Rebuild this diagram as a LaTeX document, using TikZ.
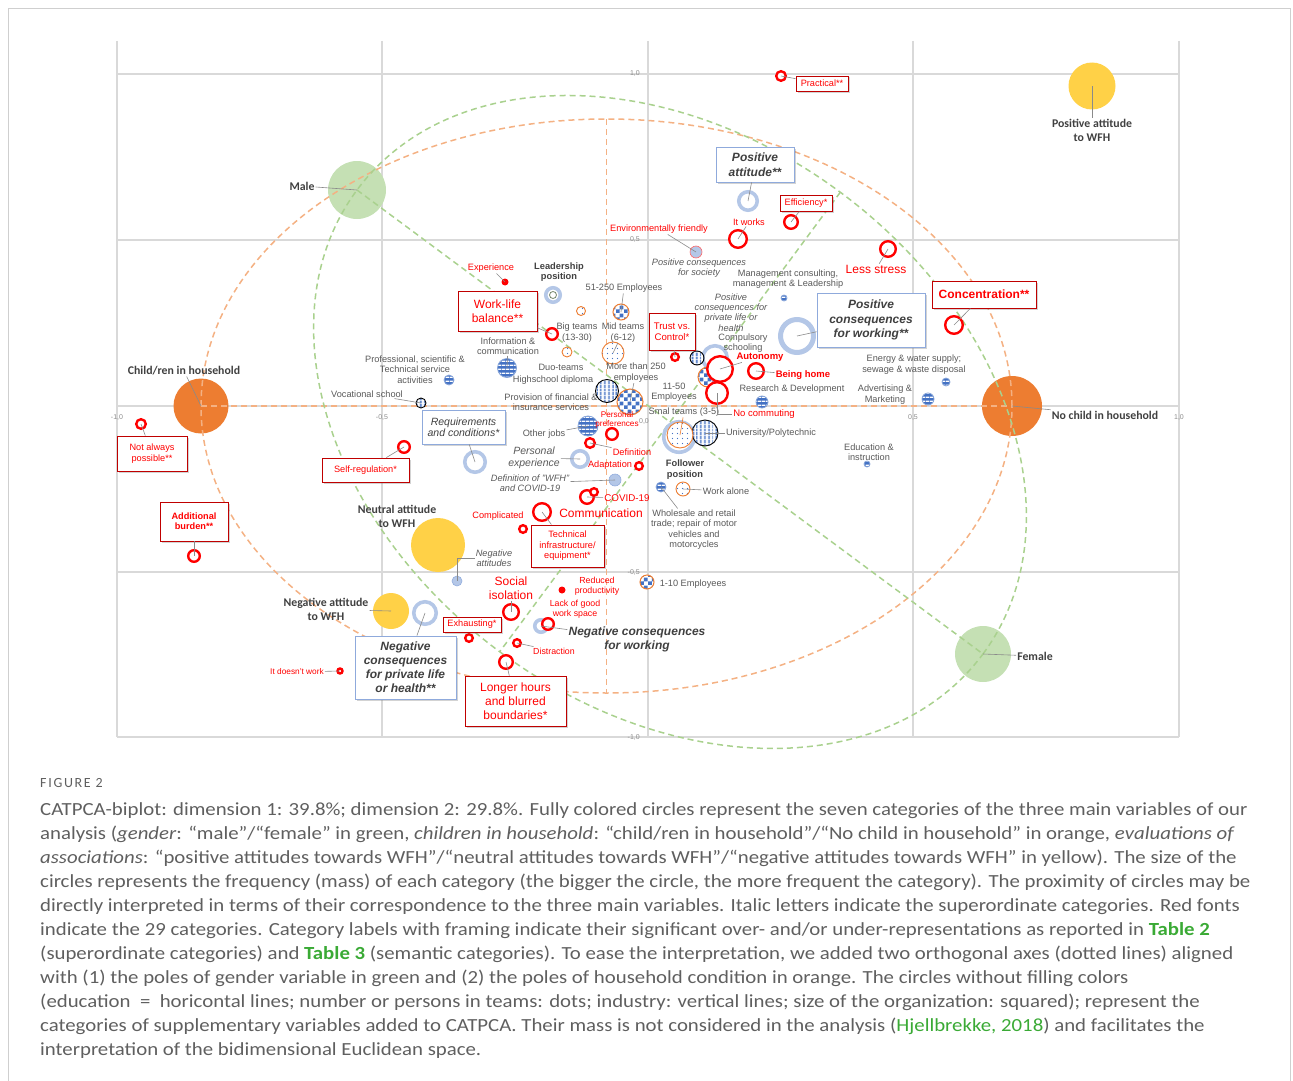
\documentclass[tikz,border=0pt]{standalone}
\usepackage{fontspec}
\setmainfont{Liberation Sans}
\newfontfamily\calib{Carlito}
\newfontfamily\capfont{Carlito}[FakeStretch=1.125]
\usetikzlibrary{positioning, calc, patterns, patterns.meta, shadows}
\newcommand{\fsz}[2]{\fontsize{#1}{#2}\selectfont}

\definecolor{gridgray}{HTML}{D9D9D9}
\definecolor{framegray}{HTML}{CFCFCF}
\definecolor{txtgray}{HTML}{595959}
\definecolor{txtdark}{HTML}{404040}
\definecolor{tickgray}{HTML}{8C8C8C}
\definecolor{leadgray}{HTML}{8A8A8A}
\definecolor{catred}{HTML}{FF0000}
\definecolor{boxred}{HTML}{C00000}
\definecolor{boxblue}{HTML}{8FAADC}
\definecolor{ringblue}{HTML}{B4C7E7}
\definecolor{stripeblue}{HTML}{4472C4}
\definecolor{mygreen}{HTML}{C5E0B4}
\definecolor{myorange}{HTML}{ED7D31}
\definecolor{myyellow}{HTML}{FFD147}
\definecolor{dashorange}{HTML}{F4B183}
\definecolor{dashgreen}{HTML}{A9D18E}
\definecolor{capgray}{HTML}{5F5F5F}
\definecolor{capgreen}{HTML}{3AAA35}

\pgfdeclarepatternformonly{chequer}{\pgfqpoint{0pt}{0pt}}{\pgfqpoint{8pt}{8pt}}{\pgfqpoint{8pt}{8pt}}{%
  \pgfpathrectangle{\pgfqpoint{0pt}{0pt}}{\pgfqpoint{4pt}{4pt}}%
  \pgfpathrectangle{\pgfqpoint{4pt}{4pt}}{\pgfqpoint{4pt}{4pt}}%
  \pgfusepath{fill}}
\pgfdeclarepatternformonly{teamdots}{\pgfqpoint{-1pt}{-1pt}}{\pgfqpoint{6pt}{6pt}}{\pgfqpoint{5pt}{5pt}}{%
  \pgfpathcircle{\pgfqpoint{2.5pt}{2.5pt}}{0.6pt}\pgfusepath{fill}}

\tikzset{
  gridln/.style={draw=gridgray, line width=1.1pt},
  odash/.style={draw=dashorange, line width=1.5pt, dash pattern=on 6pt off 4pt},
  gdash/.style={draw=dashgreen, line width=1.5pt, dash pattern=on 6pt off 4pt},
  bigdot/.style={circle, inner sep=0pt, minimum size=#1pt},
  redring/.style={circle, draw=catred, line width=2.4pt, fill=white, inner sep=0pt, minimum size=#1pt},
  reddot/.style={circle, fill=catred, inner sep=0pt, minimum size=#1pt},
  supring/.style={circle, draw=ringblue, line width=3.6pt, fill=white, inner sep=0pt, minimum size=#1pt},
  supfill/.style={circle, draw=ringblue!70!stripeblue, line width=0.6pt, fill=ringblue, inner sep=0pt, minimum size=#1pt},
  hlines/.style={circle, inner sep=0pt, minimum size=#1pt, fill=stripeblue,
    postaction={pattern={Lines[angle=0, distance=4pt, line width=1.5pt]}, pattern color=white},
    postaction={draw=ringblue!60!stripeblue, line width=0.8pt}},
  vlines/.style={circle, inner sep=0pt, minimum size=#1pt, fill=white,
    postaction={pattern={Lines[angle=90, distance=4pt, line width=2pt]}, pattern color=stripeblue},
    postaction={draw=black, line width=0.9pt}},
  chequered/.style={circle, inner sep=0pt, minimum size=#1pt, fill=white,
    postaction={pattern=chequer, pattern color=stripeblue},
    postaction={draw=myorange, line width=1pt}},
  teamdot/.style={circle, inner sep=0pt, minimum size=#1pt, fill=white,
    postaction={pattern=teamdots, pattern color=stripeblue},
    postaction={draw=myorange, line width=0.9pt}},
  mainlbl/.style={text=txtdark, font=\calib\bfseries\fsz{11.8}{14.5}, align=center, inner sep=1pt},
  graylbl/.style={text=txtgray, font=\fsz{9.2}{10.4}, align=center, inner sep=1pt},
  boldlbl/.style={text=txtdark, font=\bfseries\fsz{9.3}{10.6}, align=center, inner sep=1pt},
  itlbl/.style={text=txtgray, font=\itshape\fsz{9.2}{10.2}, align=center, inner sep=1pt},
  redlbl/.style={text=catred, font=\fsz{9.2}{10.3}, align=center, inner sep=1pt},
  redbox/.style={draw=boxred, line width=0.9pt, fill=white, text=catred, align=center, inner sep=1pt,
    font=\fsz{9.2}{10.4}, drop shadow={shadow xshift=1.5pt, shadow yshift=-1.5pt, opacity=0.35}},
  bluebox/.style={draw=boxblue, line width=0.9pt, fill=white, text=txtdark, align=center, inner sep=1pt,
    font=\bfseries\itshape\fsz{12}{14.5}, drop shadow={shadow xshift=1.5pt, shadow yshift=-1.5pt, opacity=0.35}},
  leader/.style={draw=leadgray, line width=0.6pt},
  ticklbl/.style={text=tickgray, font=\fsz{7}{8}, inner sep=0pt},
}

\begin{document}
\begin{tikzpicture}[x=1pt, y=-1pt]
  \useasboundingbox (0,0) rectangle (1293,1081);
  \draw[framegray, line width=1pt] (8.5,8.5) rectangle (1290.5,1100);

  % Grid
  \foreach \x in {117,382,648,913,1179}
    \draw[gridln] (\x,41) -- (\x,737);
  \foreach \y in {74,240,406,572,737}
    \draw[gridln] (117,\y) -- (1179,\y);
  \foreach \x/\t in {117/{-1,0}, 382/{-0,5}, 913/{0,5}, 1179/{1,0}}
    \node[ticklbl] at (\x,418) {\t};
  \foreach \y/\t in {74/{1,0}, 240/{0,5}, 572/{-0,5}, 737/{-1,0}}
    \node[ticklbl, anchor=east] at (640,\y) {\t};
  \node[ticklbl] at (644,421) {0,0};

  % Main variables
  \node[bigdot=58, fill=mygreen] (male) at (357,190) {};
  \node[bigdot=56, fill=mygreen] (female) at (983,654) {};
  \node[bigdot=55, fill=myorange] (child) at (201,406) {};
  \node[bigdot=60, fill=myorange] (nochild) at (1012,406) {};
  \node[bigdot=47, fill=myyellow] (poswfh) at (1092,86) {};
  \node[bigdot=54, fill=myyellow] (neuwfh) at (438,545) {};
  \node[bigdot=36, fill=myyellow] (negwfh) at (391,611) {};

  % Axes of the poles
  \coordinate (oc) at ($(child)!0.5!(nochild)$);
  \draw[odash] (child.center) -- (nochild.center);
  \draw[odash] ($(oc)+(0,-287)$) -- ($(oc)+(0,287)$);
  \draw[odash] (oc) ellipse [x radius=405.5pt, y radius=287pt];
  \coordinate (gc) at ($(male)!0.5!(female)$);
  \draw[gdash] (male.center) -- (female.center);
  \draw[gdash] ($(gc)!286pt!90:(female)$) -- ($(gc)!286pt!-90:(female)$);
  \draw[gdash, rotate around={-36.54:(gc)}] (gc) ellipse [x radius=389.6pt, y radius=286pt];

  % Superordinate categories
  \node[supring=18.5] (posatt) at (748,201) {};
  \node[supring=33, line width=5pt] (poscw) at (797,336) {};
  \node[supring=24.5] (posprivate) at (715,358) {};
  \node[supring=20.5] (reqcond) at (475,462) {};
  \node[supring=16.5] (persexp) at (580,459) {};
  \node[supring=22.5] (negprivate) at (425,613) {};
  \node[supring=12.5] (negwork) at (541,626) {};
  \node[supring=30.5] (follower) at (679,437) {};
  \node[supring=14.5] (leaderpos) at (553,295) {};
  \node[circle, draw=mygreen!60!black, line width=0.8pt, inner sep=0pt, minimum size=7pt] (leaderin) at (553,295) {};
  \node[supfill=12, draw=catred!60] (society) at (696,252) {};
  \node[supfill=12] (defwfh) at (615,480) {};
  \node[supfill=10] (negatt) at (457,581) {};

  % Supplementary variables
  \node[hlines=6] (mgmt) at (784,298) {};
  \node[hlines=10] (prof) at (449,380) {};
  \node[hlines=19] (infocomm) at (507,368) {};
  \node[hlines=20] (otherjobs) at (588,426) {};
  \node[hlines=12] (research) at (762,402) {};
  \node[hlines=8] (energy) at (946,382) {};
  \node[hlines=12] (advert) at (928,399) {};
  \node[hlines=6] (eduinstr) at (867,464) {};
  \node[hlines=10] (wholesale) at (661,487) {};
  \node[vlines=10] (vocational) at (421,403) {};
  \node[vlines=23] (highschool) at (607,391) {};
  \node[vlines=14] (compulsory) at (697,358) {};
  \node[vlines=26] (university) at (705,433) {};
  \node[chequered=16] (emp51) at (621,312) {};
  \node[chequered=26] (emp250) at (630,402) {};
  \node[chequered=20] (emp11) at (708,377) {};
  \node[chequered=14] (emp1) at (647,582) {};
  \node[teamdot=9] (bigteams) at (581,311) {};
  \node[teamdot=22] (midteams) at (613,353) {};
  \node[teamdot=10] (duo) at (567,352) {};
  \node[teamdot=26] (smalteams) at (680,435) {};
  \node[teamdot=14] (workalone) at (683,489) {};

  % Categories
  \node[redring=9.6] (practical) at (781,76) {};
  \node[redring=13.6] (efficiency) at (791,222) {};
  \node[redring=17.6] (itworks) at (738,239) {};
  \node[redring=15.6] (lessstress) at (888,249) {};
  \node[redring=17.6] (concentration) at (954,325) {};
  \node[redring=11.6] (worklife) at (552,334) {};
  \node[redring=7.6] (trust) at (675,357) {};
  \node[redring=25.6] (autonomy) at (720,369) {};
  \node[redring=15.6] (beinghome) at (756,371) {};
  \node[redring=21.6] (nocommuting) at (717,393) {};
  \node[redring=11.6] (perspref) at (612,434) {};
  \node[redring=9.6] (definition) at (590,443) {};
  \node[redring=7.6] (adaptation) at (639,466) {};
  \node[redring=13.6] (covid) at (587,497) {};
  \node[redring=7.6] (covidb) at (594,492) {};
  \node[redring=17.6] (communication) at (542,512) {};
  \node[redring=7.6] (complicated) at (523,529) {};
  \node[redring=11.6] (selfreg) at (404,447) {};
  \node[redring=9.6] (notalways) at (141,424) {};
  \node[redring=11.6] (addburden) at (194,556) {};
  \node[redring=15.6] (socialiso) at (511,612) {};
  \node[redring=11.6] (lackspace) at (548,624) {};
  \node[redring=7.6] (exhausting) at (469,638) {};
  \node[redring=7.6] (distraction) at (517,643) {};
  \node[redring=13.6] (longerhours) at (506,662) {};
  \node[redring=5] (doesntwork) at (340,671) {};
  \node[reddot=7] (experience) at (505,282) {};
  \node[reddot=7] (reduced) at (562,590) {};

  % Labels of the main variables
  \node[mainlbl] (lmale) at (302,186) {Male};
  \node[mainlbl] (lfemale) at (1035,656) {Female};
  \node[mainlbl] (lchild) at (184,371) {Child/ren in household};
  \node[mainlbl] (lnochild) at (1105,415) {No child in household};
  \node[mainlbl] (lposwfh) at (1092,130.5) {Positive attitude\\to WFH};
  \node[mainlbl] (lneuwfh) at (397,516.5) {Neutral attitude\\to WFH};
  \node[mainlbl] (lnegwfh) at (326,609.5) {Negative attitude\\to WFH};

  % Labels of the superordinate categories
  \node[bluebox, minimum width=78pt, minimum height=35pt] (bposatt) at (755,164.5) {Positive\\attitude**};
  \node[bluebox, minimum width=108pt, minimum height=54pt] (bposcw) at (871,320) {Positive\\consequences\\for working**};
  \node[bluebox, font=\itshape\fsz{10.5}{11.5}, minimum width=83pt, minimum height=34pt] (breq) at (463.5,427) {Requirements\\and conditions*};
  \node[bluebox, font=\bfseries\itshape\fsz{12}{14}, minimum width=101pt, minimum height=63pt] (bnegpriv) at (405.5,667.5) {Negative\\consequences\\for private life\\or health**};
  \node[itlbl] (lsociety) at (699,268) {Positive consequences\\for society};
  \node[itlbl] (lposprivate) at (731,312.5) {Positive\\consequences for\\private life or\\health};
  \node[itlbl, font=\itshape\fsz{10.5}{12}] (lpersexp) at (534,458) {Personal\\experience};
  \node[itlbl] (ldefwfh) at (530,483) {Definition of "WFH"\\and COVID-19};
  \node[itlbl] (lnegatt) at (494,558) {Negative\\attitudes};
  \node[itlbl, text=txtdark, font=\bfseries\itshape\fsz{12}{14}] (lnegwork) at (637,639) {Negative consequences\\for working};
  \node[boldlbl] (lleaderpos) at (559,272) {Leadership\\position};
  \node[boldlbl] (lfollower) at (685,469.5) {Follower\\position};

  % Labels of the categories
  \node[redbox, minimum width=52pt, minimum height=15pt] (bpractical) at (822,83.5) {Practical**};
  \node[redbox, minimum width=52pt, minimum height=16pt] (befficiency) at (806,203) {Efficiency*};
  \node[redbox, font=\bfseries\fsz{12}{14}, minimum width=104pt, minimum height=27pt] (bconc) at (984,294.5) {Concentration**};
  \node[redbox, font=\fsz{12}{14.5}, minimum width=79pt, minimum height=40pt] (bworklife) at (497.5,311) {Work-life\\balance**};
  \node[redbox, font=\fsz{9.6}{10.5}, minimum width=46pt, minimum height=37pt] (btrust) at (672,331.5) {Trust vs.\\Control*};
  \node[redbox, minimum width=87pt, minimum height=24pt] (bselfreg) at (365.5,470) {Self-regulation*};
  \node[redbox, minimum width=70pt, minimum height=35pt] (bnotalways) at (152,453.5) {Not always\\possible**};
  \node[redbox, font=\bfseries\fsz{9.2}{10.4}, minimum width=68pt, minimum height=39pt] (baddburden) at (194,521.5) {Additional\\burden**};
  \node[redbox, minimum width=73pt, minimum height=42pt] (btechnical) at (567.5,546) {Technical\\infrastructure/\\equipment*};
  \node[redbox, minimum width=58pt, minimum height=15pt] (bexhausting) at (472,624.5) {Exhausting*};
  \node[redbox, font=\fsz{12}{14}, minimum width=101pt, minimum height=50pt] (blongerhours) at (515.5,701) {Longer hours\\and blurred\\boundaries*};
  \node[redlbl] (lexperience) at (491,268) {Experience};
  \node[redlbl] (litworks) at (749,222) {It works};
  \node[redlbl] (lenviron) at (659,229) {Environmentally friendly};
  \node[redlbl, font=\fsz{12}{14}] (llessstress) at (876,269) {Less stress};
  \node[redlbl, font=\bfseries\fsz{9.5}{11}] (lautonomy) at (760,357) {Autonomy};
  \node[redlbl, font=\bfseries\fsz{9.5}{11}] (lbeinghome) at (803,375) {Being home};
  \node[redlbl, font=\fsz{9.5}{11}] (lnocommuting) at (764,414) {No commuting};
  \node[redlbl, font=\fsz{8.2}{9}] (lperspref) at (617,420) {Personal\\preferences};
  \node[redlbl] (ldefinition) at (632,452) {Definition};
  \node[redlbl] (ladaptation) at (610,465) {Adaptation};
  \node[redlbl, font=\fsz{9.8}{11}] (lcovid) at (627,498) {COVID-19};
  \node[redlbl, font=\fsz{12}{14}] (lcommunication) at (601,513) {Communication};
  \node[redlbl] (lcomplicated) at (498,516) {Complicated};
  \node[redlbl, font=\fsz{12}{14}] (lsocialiso) at (511,588) {Social\\isolation};
  \node[redlbl, font=\fsz{8.8}{10}] (lreduced) at (597,586) {Reduced\\productivity};
  \node[redlbl, font=\fsz{8.8}{10}] (llackspace) at (575,609) {Lack of good\\work space};
  \node[redlbl, font=\fsz{8.8}{10}] (ldistraction) at (554,651) {Distraction};
  \node[redlbl, font=\fsz{8.3}{9.5}] (ldoesntwork) at (297,672) {It doesn't work};

  % Labels of the supplementary variables
  \node[graylbl] (lemp51) at (624,288) {51-250 Employees};
  \node[graylbl] (lbigteams) at (577,332.5) {Big teams\\(13-30)};
  \node[graylbl] (lmidteams) at (623,332.5) {Mid teams\\(6-12)};
  \node[graylbl] (lduo) at (561,367) {Duo-teams};
  \node[graylbl] (linfocomm) at (508,346) {Information \&\\communication};
  \node[graylbl] (lhighschool) at (553,380) {Highschool diploma};
  \node[graylbl] (lfinance) at (551,402.5) {Provision of financial \&\\insurance services};
  \node[graylbl] (lemp250) at (636,372.5) {More than 250\\employees};
  \node[graylbl] (lsmalteams) at (684,412) {Smal teams (3-5)};
  \node[graylbl] (lemp11) at (674,392.5) {11-50\\Employees};
  \node[graylbl] (lotherjobs) at (544,434) {Other jobs};
  \node[graylbl] (lmgmt) at (788,279) {Management consulting,\\management \& Leadership};
  \node[graylbl] (lcompulsory) at (743,343) {Compulsory\\schooling};
  \node[graylbl] (lresearch) at (792,389) {Research \& Development};
  \node[graylbl] (lenergy) at (914,364.5) {Energy \& water supply;\\sewage \& waste disposal};
  \node[graylbl] (ladvert) at (885,394.5) {Advertising \&\\Marketing};
  \node[graylbl] (leduinstr) at (869,452.5) {Education \&\\instruction};
  \node[graylbl] (luniversity) at (771,433) {University/Polytechnic};
  \node[graylbl] (lworkalone) at (726,491) {Work alone};
  \node[graylbl] (lwholesale) at (694,529.5) {Wholesale and retail\\trade; repair of motor\\vehicles and\\motorcycles};
  \node[graylbl] (lemp1) at (693,584) {1-10 Employees};
  \node[graylbl] (lprof) at (415,369.5) {Professional, scientific \&\\Technical service\\activities};
  \node[graylbl] (lvocational) at (367,394) {Vocational school};

  % Leader lines
  \draw[leader] (lmale) -- (male.center);
  \draw[leader] (lfemale) -- (female.center);
  \draw[leader] (lchild) -- (child.center);
  \draw[leader] (lnochild) -- (nochild.center);
  \draw[leader] (lposwfh) -- (poswfh.center);
  \draw[leader] (lnegwfh) -- (negwfh.center);
  \draw[leader] (bpractical) -- (practical.center);
  \draw[leader] (befficiency) -- (efficiency.center);
  \draw[leader] (litworks) -- (itworks.center);
  \draw[leader] (lenviron) -- (society.center);
  \draw[leader] (llessstress) -- (lessstress.center);
  \draw[leader] (bconc) -- (concentration.center);
  \draw[leader] (bposatt) -- (posatt.center);
  \draw[leader] (bposcw) -- (poscw.center);
  \draw[leader] (bworklife) -- (worklife.center);
  \draw[leader] (lexperience) -- (experience.center);
  \draw[leader] (btrust) -- (trust.center);
  \draw[leader] (lautonomy) -- (autonomy.center);
  \draw[leader] (lbeinghome) -- (beinghome.center);
  \draw[leader] (lnocommuting.west) -| (nocommuting.center);
  \draw[leader] (bnotalways) -- (notalways.center);
  \draw[leader] (baddburden) -- (addburden.center);
  \draw[leader] (bselfreg) -- (selfreg.center);
  \draw[leader] (breq) -- (reqcond.center);
  \draw[leader] (bnegpriv) -- (negprivate.center);
  \draw[leader] (blongerhours) -- (longerhours.center);
  \draw[leader] (btechnical) -- (communication.center);
  \draw[leader] (lnegatt.west) -| (negatt.center);
  \draw[leader] (ldefwfh) -- (defwfh.center);
  \draw[leader] (lpersexp) -- (persexp.center);
  \draw[leader] (lotherjobs) -- (otherjobs.center);
  \draw[leader] (ldefinition) -- (definition.center);
  \draw[leader] (lcovid) -- (covid.center);
  \draw[leader] (ldistraction) -- (distraction.center);
  \draw[leader] (lworkalone) -- (workalone.center);
  \draw[leader] (lwholesale) -- (wholesale.center);
  \draw[leader] (luniversity) -- (university.center);
  \draw[leader, draw=myorange] (lsmalteams) -- (smalteams.center);
  \draw[leader] (lvocational) -- (vocational.center);
  \draw[leader] (ldoesntwork) -- (doesntwork.center);
  \draw[leader] (lnegwork) -- (negwork.center);
  \draw[leader] (lsocialiso) -- (socialiso.center);
  \draw[leader] (lemp250) -- (emp250.center);
  \draw[leader] (lemp51) -- (emp51.center);
  \draw[leader] (lmidteams) -- (midteams.center);
  \draw[leader] (linfocomm) -- (infocomm.center);

  % Caption
  \node[anchor=west, text=capgray, font=\calib\fsz{14}{16}\addfontfeature{LetterSpace=12}, inner sep=0pt] (figlbl) at (40,783) {FIGURE 2};
  \node[anchor=north west, align=left, text=capgray, font=\capfont\fsz{18.5}{24}, inner sep=0pt] (caption) at (40,802) {%
    CATPCA-biplot: dimension 1: 39.8\%; dimension 2: 29.8\%. Fully colored circles represent the seven categories of the three main variables of our\\
    analysis (\textit{gender}: “male”/“female” in green, \textit{children in household}: “child/ren in household”/“No child in household” in orange, \textit{evaluations of}\\
    \textit{associations}: “positive attitudes towards WFH”/“neutral attitudes towards WFH”/“negative attitudes towards WFH” in yellow). The size of the\\
    circles represents the frequency (mass) of each category (the bigger the circle, the more frequent the category). The proximity of circles may be\\
    directly interpreted in terms of their correspondence to the three main variables. Italic letters indicate the superordinate categories. Red fonts\\
    indicate the 29 categories. Category labels with framing indicate their significant over- and/or under-representations as reported in {\color{capgreen}\bfseries Table 2}\\
    (superordinate categories) and {\color{capgreen}\bfseries Table 3} (semantic categories). To ease the interpretation, we added two orthogonal axes (dotted lines) aligned\\
    with (1) the poles of gender variable in green and (2) the poles of household condition in orange. The circles without filling colors\\
    (education~~=~~horicontal lines; number or persons in teams: dots; industry: vertical lines; size of the organization: squared); represent the\\
    categories of supplementary variables added to CATPCA. Their mass is not considered in the analysis ({\color{capgreen}Hjellbrekke, 2018}) and facilitates the\\
    interpretation of the bidimensional Euclidean space.};
\end{tikzpicture}
\end{document}
